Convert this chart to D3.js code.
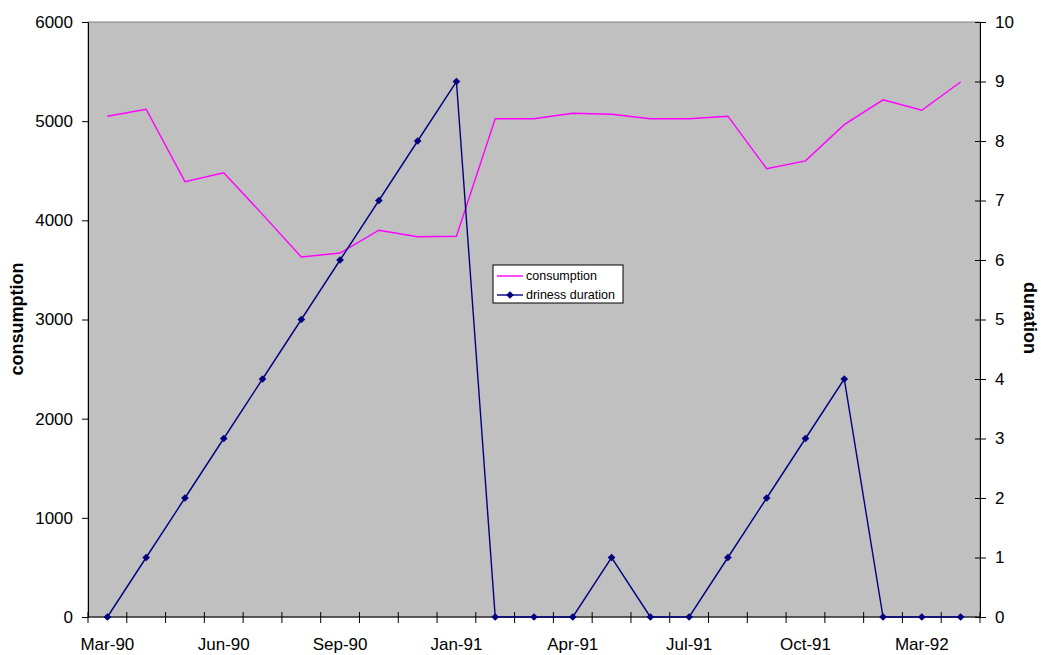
<!DOCTYPE html>
<html>
<head>
<meta charset="utf-8">
<script src="https://cdn.jsdelivr.net/npm/d3@7"></script>
<style>
  html, body { margin: 0; padding: 0; background: #fff; }
  svg { display: block; font-family: "Liberation Sans", Arial, sans-serif; }
</style>
</head>
<body>
<svg id="chart" width="1042" height="655"></svg>
<script>
// Monthly observations, March 1990 to April 1992
const months = [
  "Mar-90", "Apr-90", "May-90", "Jun-90", "Jul-90", "Aug-90", "Sep-90",
  "Oct-90", "Nov-90", "Jan-91", "Feb-91", "Mar-91", "Apr-91", "May-91",
  "Jun-91", "Jul-91", "Aug-91", "Sep-91", "Oct-91", "Nov-91", "Dec-91",
  "Mar-92", "Apr-92"
];
const shownMonths = ["Mar-90", "Jun-90", "Sep-90", "Jan-91", "Apr-91", "Jul-91", "Oct-91", "Mar-92"];
const consumption = [
  5050, 5120, 4390, 4480, 4060, 3630, 3670, 3900, 3835, 3840, 5025, 5025,
  5080, 5070, 5025, 5025, 5050, 4520, 4600, 4965, 5215, 5110, 5395
];
const drinessDuration = [0, 1, 2, 3, 4, 5, 6, 7, 8, 9, 0, 0, 0, 1, 0, 0, 1, 2, 3, 4, 0, 0, 0];
const leftTicks = [0, 1000, 2000, 3000, 4000, 5000, 6000];
const rightTicks = [0, 1, 2, 3, 4, 5, 6, 7, 8, 9, 10];

const svg = d3.select("#chart");
const plot = { left: 88, top: 22, right: 980, bottom: 617 };

const x = d3.scaleBand().domain(months).range([plot.left, plot.right]).padding(0);
const yLeft = d3.scaleLinear().domain([0, 6000]).range([plot.bottom, plot.top]);
const yRight = d3.scaleLinear().domain([0, 10]).range([plot.bottom, plot.top]);
const cx = m => x(m) + x.bandwidth() / 2;

// plot area
svg.append("rect")
  .attr("x", plot.left).attr("y", plot.top)
  .attr("width", plot.right - plot.left).attr("height", plot.bottom - plot.top)
  .attr("fill", "#c0c0c0").attr("stroke", "#808080").attr("stroke-width", 1);

const tickFont = 17;

// left axis
const gl = svg.append("g").attr("transform", `translate(${plot.left},0)`)
  .call(d3.axisLeft(yLeft).tickValues(leftTicks).tickSize(6).tickPadding(9).tickFormat(d3.format("d")));
gl.select(".domain").attr("stroke", "#000");
gl.selectAll("text").attr("font-size", tickFont).attr("font-family", "Liberation Sans, Arial, sans-serif").attr("fill", "#000");

// right axis, ticks cross the axis line
const gr = svg.append("g").attr("transform", `translate(${plot.right},0)`)
  .call(d3.axisRight(yRight).tickValues(rightTicks).tickSize(6).tickPadding(9).tickFormat(d3.format("d")));
gr.select(".domain").attr("stroke", "#000");
gr.selectAll(".tick line").attr("x1", -5).attr("x2", 6).attr("stroke", "#000");
gr.selectAll("text").attr("font-size", tickFont).attr("font-family", "Liberation Sans, Arial, sans-serif").attr("fill", "#000");

// bottom axis: ticks at category boundaries, labels on every third month
const gb = svg.append("g").attr("transform", `translate(0,${plot.bottom})`);
gb.append("line").attr("x1", plot.left).attr("x2", plot.right).attr("y1", 0).attr("y2", 0)
  .attr("stroke", "#000");
const boundaries = months.map(m => x(m)).concat([plot.right]);
gb.selectAll("line.tk").data(boundaries).join("line").attr("class", "tk")
  .attr("x1", d => d).attr("x2", d => d).attr("y1", -5).attr("y2", 6)
  .attr("stroke", "#000");
gb.selectAll("text").data(shownMonths).join("text")
  .attr("x", d => cx(d)).attr("y", 33)
  .attr("text-anchor", "middle").attr("font-size", tickFont).attr("fill", "#000")
  .text(d => d);

// axis titles
svg.append("text")
  .attr("transform", `translate(23,319) rotate(-90)`)
  .attr("text-anchor", "middle").attr("font-size", 18).attr("font-weight", "bold")
  .text("consumption");
svg.append("text")
  .attr("transform", `translate(1024,318) rotate(90)`)
  .attr("text-anchor", "middle").attr("font-size", 18).attr("font-weight", "bold")
  .text("duration");

// series
const consLine = d3.line().x((d, i) => cx(months[i])).y(d => yLeft(d));
const durLine = d3.line().x((d, i) => cx(months[i])).y(d => yRight(d));

svg.append("path").datum(consumption).attr("d", consLine)
  .attr("fill", "none").attr("stroke", "#ff00ff").attr("stroke-width", 1.4);

svg.append("path").datum(drinessDuration).attr("d", durLine)
  .attr("fill", "none").attr("stroke", "#000080").attr("stroke-width", 1.4);

const diamond = d3.symbol().type(d3.symbolSquare).size(30);
svg.selectAll("path.mk").data(drinessDuration).join("path").attr("class", "mk")
  .attr("d", diamond)
  .attr("transform", (d, i) => `translate(${cx(months[i])},${yRight(d)}) rotate(45)`)
  .attr("fill", "#000080");

// legend
const lg = svg.append("g").attr("transform", "translate(493,265)");
lg.append("rect").attr("x", 0).attr("y", 0).attr("width", 130).attr("height", 38)
  .attr("fill", "#fff").attr("stroke", "#000").attr("stroke-width", 1);
const legendItems = [
  { name: "consumption", color: "#ff00ff", marker: false },
  { name: "driness duration", color: "#000080", marker: true }
];
legendItems.forEach((it, i) => {
  const yy = 11 + i * 19;
  lg.append("line").attr("x1", 4).attr("x2", 30).attr("y1", yy).attr("y2", yy)
    .attr("stroke", it.color).attr("stroke-width", 1.4);
  if (it.marker) {
    lg.append("path").attr("d", diamond)
      .attr("transform", `translate(17,${yy}) rotate(45)`).attr("fill", it.color);
  }
  lg.append("text").attr("x", 33).attr("y", yy).attr("dy", "0.35em")
    .attr("font-size", 12.5).attr("fill", "#000").text(it.name);
});
</script>
</body>
</html>
